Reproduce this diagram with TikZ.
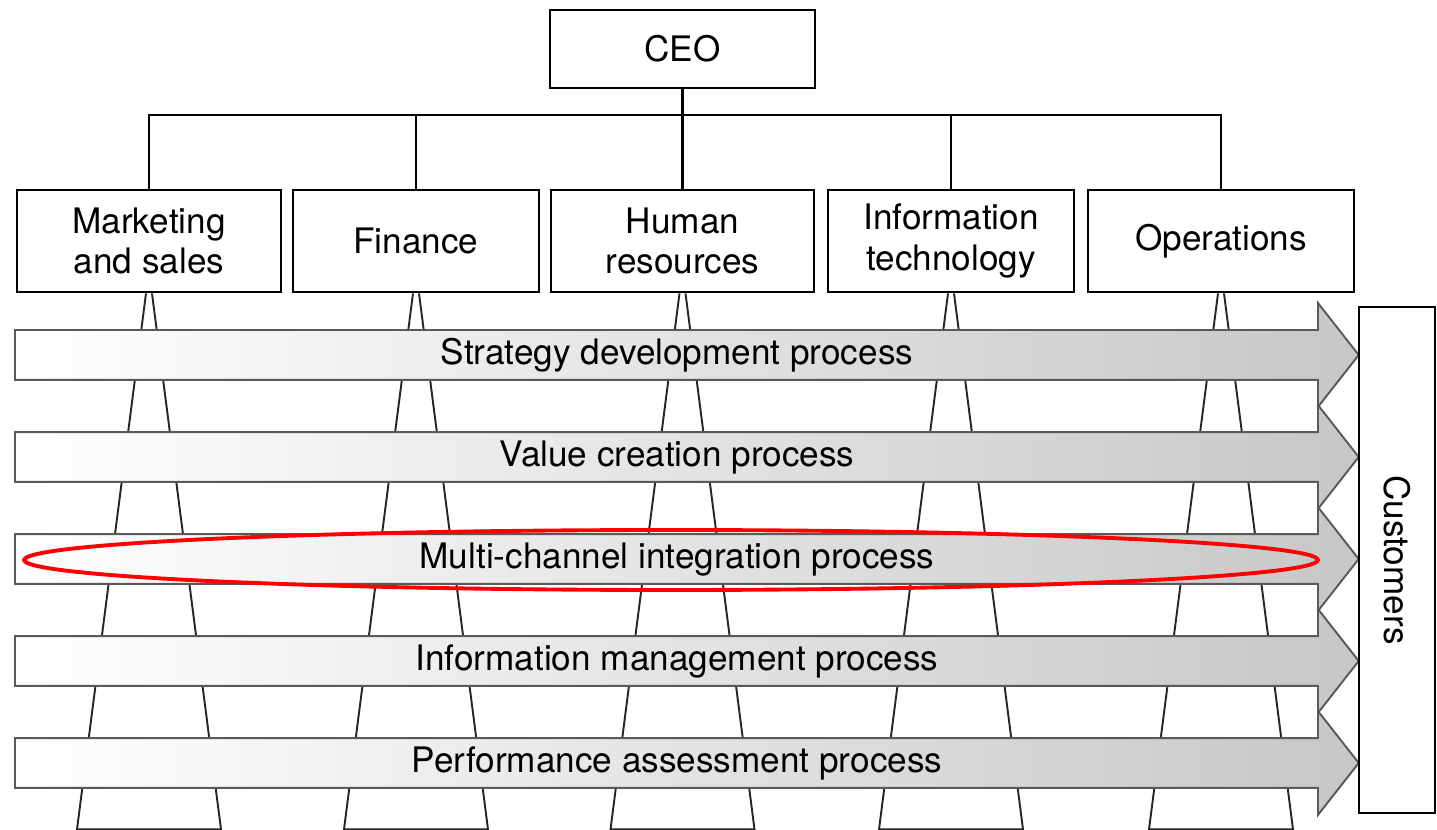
\documentclass[tikz,border=0pt]{standalone}
\usepackage{fontspec}
\setmainfont{TeX Gyre Heros}
\usetikzlibrary{shapes.arrows}

\begin{document}
\begin{tikzpicture}[x=0.02cm, y=-0.02cm, font=\fontsize{20}{23}\selectfont,
  unit/.style={draw, line width=1.6pt, align=center, minimum height=2.04cm, inner sep=0},
  procarrow/.style={single arrow, draw=black!65, line width=1.1pt, left color=white, right color=black!22,
    minimum height=26.88cm, single arrow head extend=0.54cm, single arrow tip angle=103.8,
    inner xsep=0, inner ysep=0, text height=0.68cm, text depth=0.28cm, anchor=tail},
  funnel/.style={line width=1.1pt, black!85}]
\useasboundingbox (0,0) rectangle (1437,830);
% top of the chart
\node[unit, minimum width=5.3cm, minimum height=1.56cm] (ceo) at (682.5,49) {CEO};
\node[unit, minimum width=5.28cm] (mkt) at (149,241) {Marketing\\and sales};
\node[unit, minimum width=4.92cm] (fin) at (416,241) {Finance};
\node[unit, minimum width=5.26cm] (hr) at (682.5,241) {Human\\resources};
\node[unit, minimum width=4.92cm] (it) at (951,241) {Information\\technology};
\node[unit, minimum width=5.32cm] (ops) at (1221,241) {Operations};
\coordinate (bus) at (0,115);
\draw[line width=1.6pt] (ceo.south) -- (ceo.south |- bus);
\draw[line width=1.6pt] (mkt.north) -- (mkt.north |- bus) -| (ops.north);
\draw[line width=1.6pt] (fin.north) -- (fin.north |- bus);
\draw[line width=1.6pt] (hr.north) -- (hr.north |- bus);
\draw[line width=1.6pt] (it.north) -- (it.north |- bus);
% funnels under each function
\draw[funnel] (mkt.south) ++(-3,0) -- ++(-69,536) -- ++(144,0) -- ++(-69,-536);
\draw[funnel] (fin.south) ++(-3,0) -- ++(-69,536) -- ++(144,0) -- ++(-69,-536);
\draw[funnel] (hr.south) ++(-3,0) -- ++(-69,536) -- ++(144,0) -- ++(-69,-536);
\draw[funnel] (it.south) ++(-3,0) -- ++(-69,536) -- ++(144,0) -- ++(-69,-536);
\draw[funnel] (ops.south) ++(-3,0) -- ++(-69,536) -- ++(144,0) -- ++(-69,-536);
% processes
\node[procarrow] (strat) at (14,355) {Strategy development process};
\node[procarrow] (value) at (14,457) {Value creation process};
\node[procarrow] (multi) at (14,559) {Multi-channel integration process};
\node[procarrow] (info) at (14,661) {Information management process};
\node[procarrow] (perf) at (14,763) {Performance assessment process};
\draw[red, line width=2.2pt] (671,560) ellipse [x radius=12.94cm, y radius=0.6cm];
\node[draw, line width=1.6pt, rotate=-90, minimum width=10.12cm, minimum height=1.52cm, inner sep=0] (cust) at (1397,560) {Customers};
\end{tikzpicture}
\end{document}
